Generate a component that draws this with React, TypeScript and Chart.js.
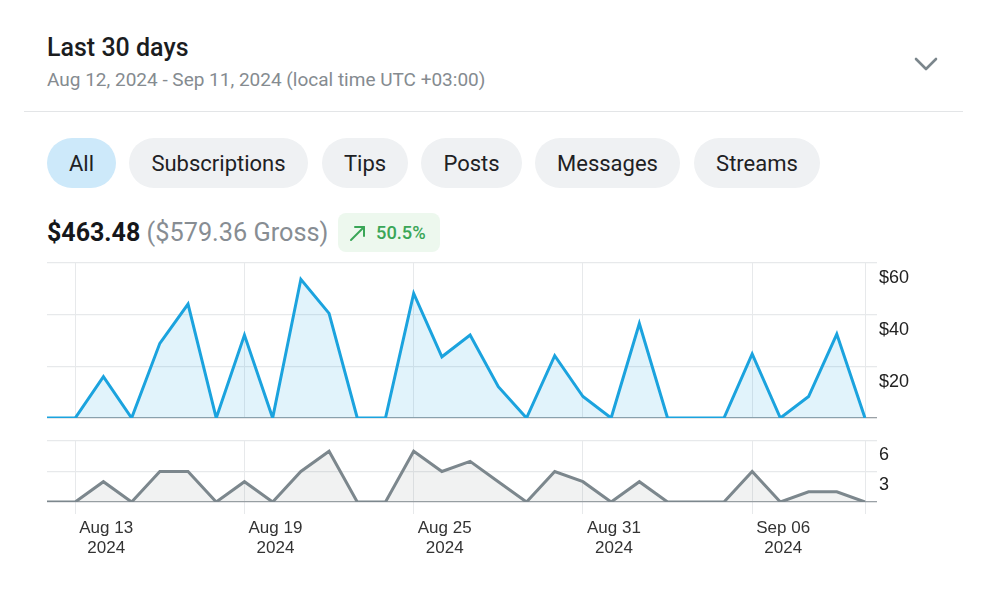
import React, { useEffect, useRef } from 'react';
import { Chart, registerables } from 'chart.js';

Chart.register(...registerables);

// ---- data ----
const dayLabels = [
  'Aug 12', 'Aug 13', 'Aug 14', 'Aug 15', 'Aug 16', 'Aug 17', 'Aug 18', 'Aug 19', 'Aug 20', 'Aug 21',
  'Aug 22', 'Aug 23', 'Aug 24', 'Aug 25', 'Aug 26', 'Aug 27', 'Aug 28', 'Aug 29', 'Aug 30', 'Aug 31',
  'Sep 01', 'Sep 02', 'Sep 03', 'Sep 04', 'Sep 05', 'Sep 06', 'Sep 07', 'Sep 08', 'Sep 09', 'Sep 10',
];
const earnings = [
  0, 0, 16, 0, 28.9, 44.1, 0, 32.1, 0, 53.7,
  40.5, 0, 0, 48.2, 23.7, 32.1, 12.1, 0, 24.1, 8.3,
  0, 36.6, 0, 0, 0, 24.8, 0, 8.3, 32.5, 0,
];
const transactions = [
  0, 0, 2, 0, 3, 3, 0, 2, 0, 3,
  5, 0, 0, 5, 3, 4, 2, 0, 3, 2,
  0, 2, 0, 0, 0, 3, 0, 1, 1, 0,
];
const labeledDays = ['Aug 13', 'Aug 19', 'Aug 25', 'Aug 31', 'Sep 06'];
const gridDays = ['Aug 13', 'Aug 19', 'Aug 25', 'Aug 31', 'Sep 06', 'Sep 10'];
const tickYear = '2024';
const earningsMax = 60;
const earningsStep = 20;
const countMax = 6;
const countStep = 3;
const filters = ['All', 'Subscriptions', 'Tips', 'Posts', 'Messages', 'Streams'];

const GRID = '#e7e9eb';
const ZERO = '#9aa1a6';
const tickFont = { family: '"Liberation Sans", Arial, sans-serif', size: 18 };

function xGridColor(ctx: any) {
  return gridDays.includes(dayLabels[ctx.index]) ? GRID : 'rgba(0,0,0,0)';
}
function yGridColor(ctx: any) {
  return ctx.tick && ctx.tick.value === 0 ? ZERO : GRID;
}

function makeOptions(opts: {
  max: number; step: number; fmt: (v: number) => string; showX: boolean; xHeight: number; yLabelOffset: number;
}) {
  return {
    responsive: false,
    animation: false as const,
    maintainAspectRatio: false,
    layout: { padding: { left: 10, right: 10, top: 10, bottom: opts.showX ? 0 : 15 } },
    plugins: { legend: { display: false }, tooltip: { enabled: false } },
    elements: { point: { radius: 0 }, line: { tension: 0 } },
    scales: {
      x: {
        grid: {
          color: xGridColor,
          lineWidth: 1,
          drawTicks: opts.showX,
          tickLength: 12,
        },
        border: { display: false },
        ticks: {
          display: opts.showX,
          autoSkip: false,
          maxRotation: 0,
          minRotation: 0,
          padding: 4,
          labelOffset: 31,
          color: '#333',
          font: { family: '"Liberation Sans", Arial, sans-serif', size: 17, lineHeight: 1.2 },
          callback: (_v: any, i: number) =>
            labeledDays.includes(dayLabels[i]) ? [dayLabels[i], tickYear] : '',
        },
        afterFit: (s: any) => {
          s.height = opts.xHeight;
          s.paddingLeft = 0;
          s.paddingRight = 0;
        },
      },
      y: {
        position: 'right' as const,
        min: 0,
        max: opts.max,
        grid: { color: yGridColor, tickLength: 12, lineWidth: 1.3 },
        border: { display: false },
        ticks: {
          stepSize: opts.step,
          padding: 2,
          labelOffset: opts.yLabelOffset,
          color: '#222',
          font: tickFont,
          callback: (v: any) => (v === 0 ? '' : opts.fmt(v)),
        },
        afterFit: (s: any) => {
          s.width = 62;
          s.paddingTop = 0;
          s.paddingBottom = 0;
        },
      },
    },
  };
}

function LineCanvas(props: {
  data: number[]; color: string; fill: string; width: number; height: number;
  max: number; step: number; fmt: (v: number) => string; showX: boolean; xHeight: number;
  lineWidth: number; yLabelOffset: number;
}) {
  const ref = useRef<HTMLCanvasElement>(null);
  useEffect(() => {
    if (!ref.current) return;
    const chart = new Chart(ref.current, {
      type: 'line',
      data: {
        labels: dayLabels,
        datasets: [
          {
            data: props.data,
            borderColor: props.color,
            backgroundColor: props.fill,
            borderWidth: props.lineWidth,
            fill: 'origin',
            pointRadius: 0,
            borderJoinStyle: 'miter',
          },
        ],
      },
      options: makeOptions(props) as any,
    });
    return () => chart.destroy();
  }, []);
  return (
    <canvas
      ref={ref}
      width={props.width}
      height={props.height}
      style={{ width: props.width, height: props.height, display: 'block' }}
    />
  );
}

const pillBoxes: Record<string, [number, number]> = {
  All: [47, 69],
  Subscriptions: [129, 179],
  Tips: [322, 86],
  Posts: [421, 101],
  Messages: [535, 145],
  Streams: [694, 126],
};

export default function App() {
  const roboto = 'Roboto, "Noto Sans", Arial, sans-serif';
  return (
    <div
      style={{
        position: 'absolute',
        left: 0,
        top: 0,
        width: 987,
        height: 608,
        background: '#ffffff',
        overflow: 'hidden',
        fontFamily: roboto,
      }}
    >
      <div style={{ position: 'absolute', left: 47, top: 32, fontSize: 25, fontWeight: 500, color: '#1b1d1f', lineHeight: '32px' }}>
        Last 30 days
      </div>
      <div style={{ position: 'absolute', left: 47, top: 68, fontSize: 19, color: '#858b90', lineHeight: '24px' }}>
        Aug 12, 2024 - Sep 11, 2024 (local time UTC +03:00)
      </div>
      <svg style={{ position: 'absolute', left: 912, top: 52 }} width={30} height={24}>
        <polyline points="4,7 14,17 24,7" fill="none" stroke="#7b868c" strokeWidth={2.6} strokeLinecap="round" strokeLinejoin="round" />
      </svg>
      <div style={{ position: 'absolute', left: 24, top: 110.5, width: 939, height: 1.5, background: '#e3e5e7' }} />

      {filters.map((f) => (
        <div
          key={f}
          style={{
            position: 'absolute',
            left: pillBoxes[f][0],
            top: 138,
            width: pillBoxes[f][1],
            height: 50,
            borderRadius: 25,
            background: f === 'All' ? '#cde9fa' : '#eff1f3',
            color: '#1e2124',
            fontSize: 22,
            lineHeight: '52px',
            textAlign: 'center',
          }}
        >
          {f}
        </div>
      ))}

      <div style={{ position: 'absolute', left: 47, top: 216, lineHeight: '34px', whiteSpace: 'nowrap' }}>
        <span style={{ fontSize: 25, fontWeight: 700, color: '#15171a' }}>$463.48</span>
        <span style={{ fontSize: 25.3, color: '#878d93' }}> ($579.36 Gross)</span>
      </div>
      <div
        style={{
          position: 'absolute',
          left: 338,
          top: 213,
          width: 102,
          height: 39,
          borderRadius: 8,
          background: '#edf8ee',
        }}
      >
        <svg style={{ position: 'absolute', left: 11, top: 11 }} width={18} height={18}>
          <line x1={2} y1={16} x2={15} y2={3} stroke="#3aa657" strokeWidth={2} strokeLinecap="round" />
          <polyline points="6,3 15,3 15,12" fill="none" stroke="#3aa657" strokeWidth={2} strokeLinecap="round" strokeLinejoin="round" />
        </svg>
        <div style={{ position: 'absolute', left: 38, top: 0, lineHeight: '40px', fontSize: 18.3, fontWeight: 500, color: '#3aa657' }}>
          50.5%
        </div>
      </div>

      <div style={{ position: 'absolute', left: 37, top: 253 }}>
        <LineCanvas
          data={earnings}
          color="#1ba3de"
          fill="rgba(27,163,222,0.13)"
          lineWidth={3}
          width={900}
          height={180}
          max={earningsMax}
          step={earningsStep}
          fmt={(v) => '$' + v}
          showX={false}
          xHeight={0}
          yLabelOffset={15.5}
        />
      </div>
      <div style={{ position: 'absolute', left: 37, top: 431 }}>
        <LineCanvas
          data={transactions}
          color="#7c878d"
          fill="rgba(124,135,141,0.11)"
          lineWidth={3}
          width={900}
          height={130}
          max={countMax}
          step={countStep}
          fmt={(v) => String(v)}
          showX={true}
          xHeight={59}
          yLabelOffset={14}
        />
      </div>
    </div>
  );
}
